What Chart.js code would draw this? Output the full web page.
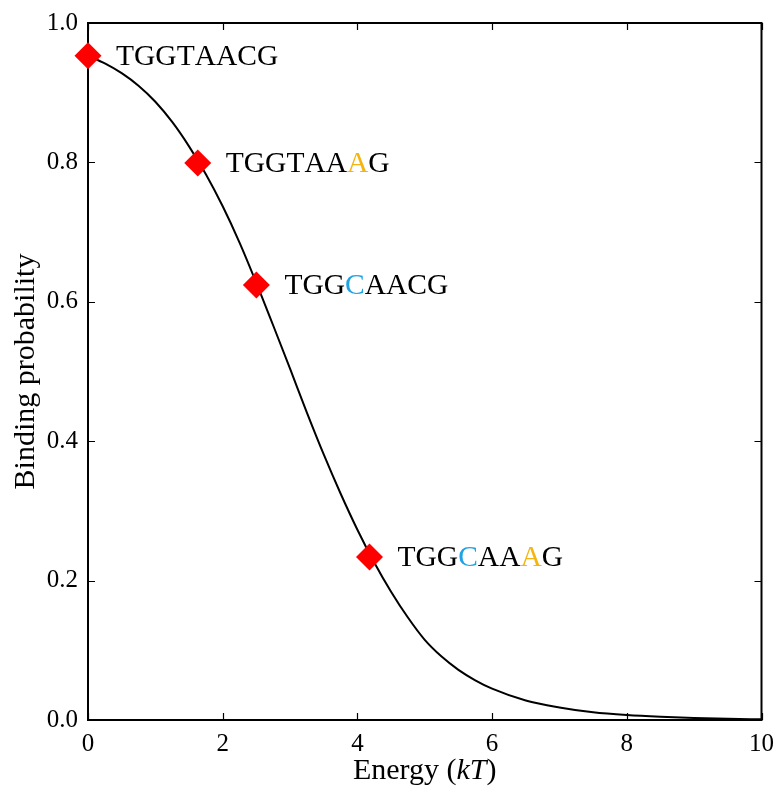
<!DOCTYPE html>
<html>
<head>
<meta charset="utf-8">
<script src="https://cdn.jsdelivr.net/npm/chart.js@4"></script>
<style>
  html, body { margin: 0; padding: 0; background: #fff; }
  #grafico { display: block; }
</style>
</head>
<body>
<canvas id="grafico" width="775" height="786"></canvas>
<script>
// curva (energia em kT -> probabilidade de ligação)
const energyGrid = [0, 0.25, 0.5, 0.75, 1, 1.25, 1.5, 1.75, 2, 2.25, 2.5, 2.75, 3, 3.25, 3.5, 3.75, 4, 4.25, 4.5, 4.75, 5, 5.25, 5.5, 5.75, 6, 6.5, 7, 7.5, 8, 8.5, 9, 9.5, 10];
const bindingProb = [0.953, 0.942, 0.928, 0.910, 0.887, 0.858, 0.823, 0.783, 0.737, 0.685, 0.627, 0.566, 0.504, 0.441, 0.381, 0.325, 0.273, 0.226, 0.184, 0.147, 0.115, 0.091, 0.072, 0.057, 0.045, 0.028, 0.018, 0.011, 0.007, 0.0045, 0.0028, 0.0017, 0.001];

// sequências marcadas
const seqEnergy = [0.0, 1.63, 2.50, 4.18];
const seqProb = [0.953, 0.799, 0.624, 0.234];
const seqLabels = ['TGGTAACG', 'TGGTAAAG', 'TGGCAACG', 'TGGCAAAG'];
const blueLetters = [[], [], [3], [3]];
const orangeLetters = [[], [6], [], [6]];

const xTicks = [0, 2, 4, 6, 8, 10];
const yTicks = [0, 0.2, 0.4, 0.6, 0.8, 1.0];

const SERIF = '"Liberation Serif", "DejaVu Serif", serif';

// moldura + ticks para dentro nos quatro lados
const molduraPlugin = {
    id: 'moldura',
    beforeDatasetsDraw(chart) {
        const ctx = chart.ctx;
        const a = chart.chartArea;
        const sx = chart.scales.x, sy = chart.scales.y;
        ctx.save();
        ctx.strokeStyle = '#000';
        ctx.lineWidth = 2;
        ctx.strokeRect(a.left, a.top, a.right - a.left, a.bottom - a.top);
        ctx.lineWidth = 1.2;
        ctx.beginPath();
        xTicks.forEach(function(v) {
            const px = Math.round(sx.getPixelForValue(v)) + 0.5;
            ctx.moveTo(px, a.bottom); ctx.lineTo(px, a.bottom - 7);
            ctx.moveTo(px, a.top); ctx.lineTo(px, a.top + 7);
        });
        yTicks.forEach(function(v) {
            const py = Math.round(sy.getPixelForValue(v)) + 0.5;
            ctx.moveTo(a.left, py); ctx.lineTo(a.left + 7, py);
            ctx.moveTo(a.right, py); ctx.lineTo(a.right - 7, py);
        });
        ctx.stroke();
        ctx.restore();
    }
};

// rótulos das sequências e títulos dos eixos
const textosPlugin = {
    id: 'textos',
    afterDatasetsDraw(chart) {
        const ctx = chart.ctx;
        const a = chart.chartArea;
        const sx = chart.scales.x, sy = chart.scales.y;
        ctx.save();
        ctx.textBaseline = 'middle';
        ctx.textAlign = 'left';
        ctx.font = '29.5px ' + SERIF;
        seqLabels.forEach(function(txt, i) {
            let x = sx.getPixelForValue(seqEnergy[i]) + 28;
            const y = sy.getPixelForValue(seqProb[i]) + 1;
            for (let k = 0; k < txt.length; k++) {
                let cor = '#000';
                if (blueLetters[i].includes(k)) cor = '#1fa3e3';
                if (orangeLetters[i].includes(k)) cor = '#f5b50f';
                ctx.fillStyle = cor;
                ctx.fillText(txt[k], x, y);
                x += ctx.measureText(txt[k]).width;
            }
        });

        // título do eixo x: Energy (kT) com kT em itálico
        ctx.fillStyle = '#000';
        const partes = [['Energy (', ''], ['kT', 'italic '], [')', '']];
        let total = 0;
        partes.forEach(function(p) {
            ctx.font = p[1] + '30px ' + SERIF;
            total += ctx.measureText(p[0]).width;
        });
        let xx = (a.left + a.right) / 2 - total / 2;
        partes.forEach(function(p) {
            ctx.font = p[1] + '30px ' + SERIF;
            ctx.fillText(p[0], xx, 771);
            xx += ctx.measureText(p[0]).width;
        });

        // título do eixo y
        ctx.translate(26, (a.top + a.bottom) / 2);
        ctx.rotate(-Math.PI / 2);
        ctx.textAlign = 'center';
        ctx.font = '30px ' + SERIF;
        ctx.fillText('Binding probability', 0, 0);
        ctx.restore();
    }
};

document.addEventListener('DOMContentLoaded', function() {
    const ctx = document.getElementById('grafico').getContext('2d');
    new Chart(ctx, {
        type: 'scatter',
        data: {
            datasets: [{
                label: 'curva',
                data: energyGrid.map(function(e, i) { return { x: e, y: bindingProb[i] }; }),
                showLine: true,
                borderColor: '#000',
                borderWidth: 2,
                pointRadius: 0,
                cubicInterpolationMode: 'monotone',
                order: 2
            }, {
                label: 'sequencias',
                data: seqEnergy.map(function(e, i) { return { x: e, y: seqProb[i] }; }),
                showLine: false,
                pointStyle: 'rectRot',
                pointRadius: 13.5,
                backgroundColor: '#ff0000',
                borderWidth: 0,
                clip: false,
                order: 1
            }]
        },
        options: {
            responsive: false,
            animation: false,
            devicePixelRatio: 1,
            layout: { padding: { top: 23, right: 6, left: 0, bottom: 0 } },
            plugins: {
                legend: { display: false },
                tooltip: { enabled: false }
            },
            scales: {
                x: {
                    type: 'linear',
                    min: 0,
                    max: 10,
                    afterBuildTicks: function(s) { s.ticks = xTicks.map(function(v) { return { value: v }; }); },
                    afterFit: function(s) { s.height = 66; },
                    grid: { display: false },
                    border: { display: false },
                    ticks: {
                        color: '#000',
                        font: { family: SERIF, size: 25 },
                        padding: 1,
                        maxRotation: 0,
                        callback: function(v) { return String(v); }
                    }
                },
                y: {
                    type: 'linear',
                    min: 0,
                    max: 1,
                    afterBuildTicks: function(s) { s.ticks = yTicks.map(function(v) { return { value: v }; }); },
                    afterFit: function(s) { s.width = 88; },
                    grid: { display: false },
                    border: { display: false },
                    ticks: {
                        color: '#000',
                        font: { family: SERIF, size: 25 },
                        padding: 2,
                        callback: function(v) { return Number(v).toFixed(1); }
                    }
                }
            }
        },
        plugins: [molduraPlugin, textosPlugin]
    });
});
</script>
</body>
</html>
